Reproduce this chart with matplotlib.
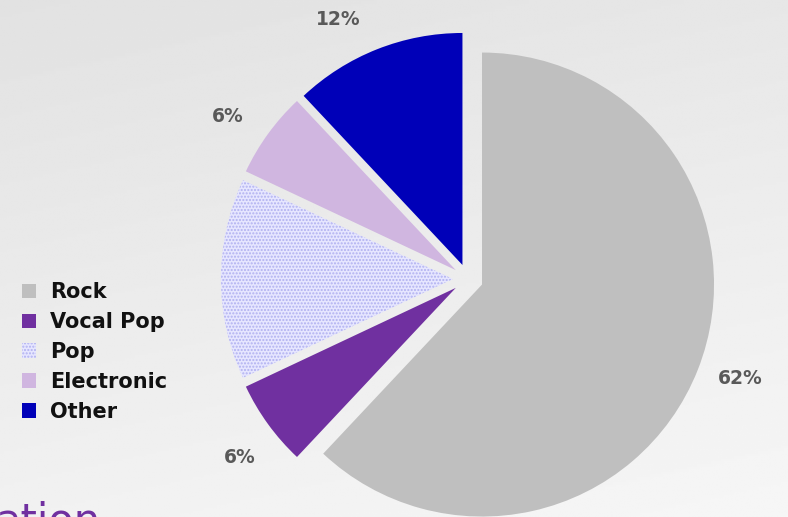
import numpy as np
import matplotlib.pyplot as plt

# data
genres = ['Rock', 'Vocal Pop', 'Pop', 'Electronic', 'Other']
shares = [62, 6, 14, 6, 12]
show_pct = [True, True, False, True, True]
colors = ['#bfbfbf', '#7030a0', '#e6e6ff', '#d0b6e0', '#0000b8']
# small angular nudges (deg) for the data labels, like excel's best fit
label_nudge = [1.5, 2, 0, 2, 5]

W, H = 788, 517
fig = plt.figure(figsize=(W / 100, H / 100), dpi=100)

# gradient background
bg = fig.add_axes([0, 0, 1, 1])
yy, xx = np.mgrid[0:1:200j, 0:1:300j]
grad = 0.885 + 0.06 * yy + 0.02 * xx
bg.imshow(grad, cmap='gray', vmin=0, vmax=1, aspect='auto', extent=(0, 1, 0, 1))
bg.axis('off')

# pie axes, centre at (468, 279) px, radius 232 px
ax = fig.add_axes([0, 0, 1, 1])
cx, cy, r = 468, 279, 232
wedges, _ = ax.pie(shares, colors=colors, startangle=90, counterclock=False,
                   explode=[0.065] * len(shares), radius=1,
                   wedgeprops=dict(linewidth=0))
# dotted fill for pop
wedges[2].set_hatch('.....')
wedges[2].set_edgecolor('#b0b0f0')
wedges[2].set_linewidth(0)

ax.set_xlim(-cx / r, (W - cx) / r)
ax.set_ylim(-(H - cy) / r, cy / r)
ax.set_aspect('auto')
ax.axis('off')

for w, val, show, nd in zip(wedges, shares, show_pct, label_nudge):
    if not show:
        continue
    ang = np.deg2rad((w.theta1 + w.theta2) / 2 + nd)
    d = 1.25
    ax.text(d * np.cos(ang), d * np.sin(ang), f'{val}%', ha='center', va='center',
            fontsize=13.5, fontweight='bold', color='#595959')

leg = fig.legend(wedges, genres, loc='upper left', bbox_to_anchor=(0.004, 0.49),
                 frameon=False, handlelength=0.7, handleheight=0.7,
                 handletextpad=0.65, labelspacing=0.47,
                 prop=dict(weight='bold', size=15))
for t in leg.get_texts():
    t.set_color('#111111')

# cut-off slide title at the bottom
fig.text(-0.006, -0.031, 'ation', fontsize=30, color='#7030a0',
         ha='left', va='baseline')

fig.savefig('out.png', dpi=100)
